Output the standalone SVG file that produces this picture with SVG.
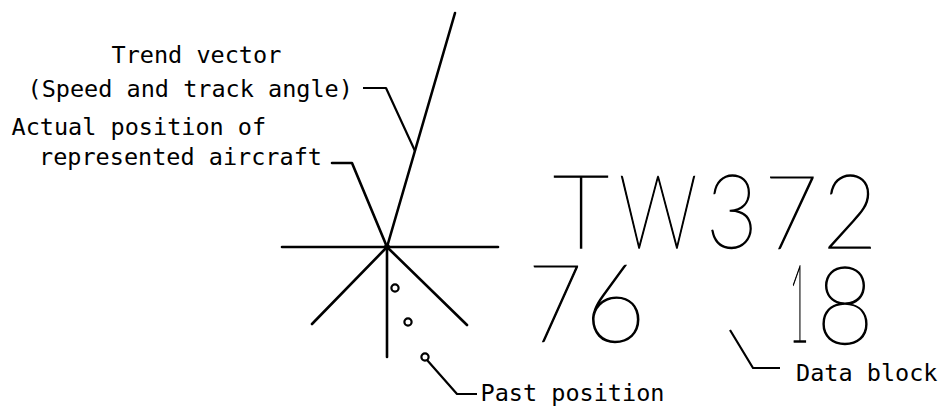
<svg xmlns="http://www.w3.org/2000/svg" width="942" height="412" viewBox="0 0 942 412">
<style>
.lbl{font-family:"DejaVu Sans Mono","Liberation Mono",monospace;font-size:23.5px;fill:#000}
.big{font-family:Lato,Inter,"Liberation Sans",sans-serif;font-weight:100;fill:#000;stroke:#000;stroke-width:1.3;text-anchor:middle}
.ln{stroke:#000;stroke-width:2.6;fill:none;stroke-linecap:round;stroke-linejoin:round}
.ld{stroke:#000;stroke-width:2.2;fill:none;stroke-linejoin:round}
.pp{stroke:#000;stroke-width:2.2;fill:#fff}
</style>
<rect width="942" height="412" fill="#fff"/>
<g id="symbol">
<line class="ln" x1="282" y1="247" x2="498" y2="247"/>
<line class="ln" x1="387" y1="247" x2="312" y2="324"/>
<line class="ln" x1="387" y1="247" x2="467" y2="325"/>
<line class="ln" x1="387" y1="247" x2="387" y2="357"/>
<circle cx="387" cy="247" r="3" fill="#000"/>
</g>
<g id="trend-vector">
<line class="ln" x1="387" y1="247" x2="455" y2="13"/>
</g>
<g id="past-positions">
<circle class="pp" cx="395" cy="288" r="3.6"/>
<circle class="pp" cx="408" cy="322" r="3.6"/>
<circle class="pp" cx="425" cy="357" r="3.6"/>
</g>
<g id="connectors">
<polyline class="ld" points="363,88 386,88 415,151"/>
<polyline class="ln" points="332,163 352,163 387,247"/>
<polyline class="ld" points="427,360 457,394 477,394"/>
<polyline class="ld" points="730,330 753,368 780,368"/>
</g>
<g id="label-trend">
<text class="lbl" x="111.5" y="63">Trend vector</text>
<text class="lbl" x="27.5" y="97">(Speed and track angle)</text>
</g>
<g id="label-actual">
<text class="lbl" x="11.5" y="135">Actual position of</text>
<text class="lbl" x="39" y="165">represented aircraft</text>
</g>
<g id="label-past">
<text class="lbl" x="480.5" y="401">Past position</text>
</g>
<g id="label-data">
<text class="lbl" x="796" y="381">Data block</text>
</g>
<g id="data-block">
<text class="big" font-size="103" y="248"><tspan x="581" textLength="56" lengthAdjust="spacingAndGlyphs">T</tspan><tspan x="658" textLength="78" lengthAdjust="spacingAndGlyphs">W</tspan><tspan x="732" textLength="52" lengthAdjust="spacingAndGlyphs">3</tspan><tspan x="791" textLength="54" lengthAdjust="spacingAndGlyphs">7</tspan><tspan x="850" textLength="55" lengthAdjust="spacingAndGlyphs">2</tspan></text>
<text class="big" font-size="108" y="342"><tspan x="555" textLength="55" lengthAdjust="spacingAndGlyphs">7</tspan><tspan x="615" textLength="62" lengthAdjust="spacingAndGlyphs">6</tspan><tspan x="799" textLength="20" lengthAdjust="spacingAndGlyphs">1</tspan><tspan x="845" y="344" textLength="58" lengthAdjust="spacingAndGlyphs">8</tspan></text>
</g>
</svg>
